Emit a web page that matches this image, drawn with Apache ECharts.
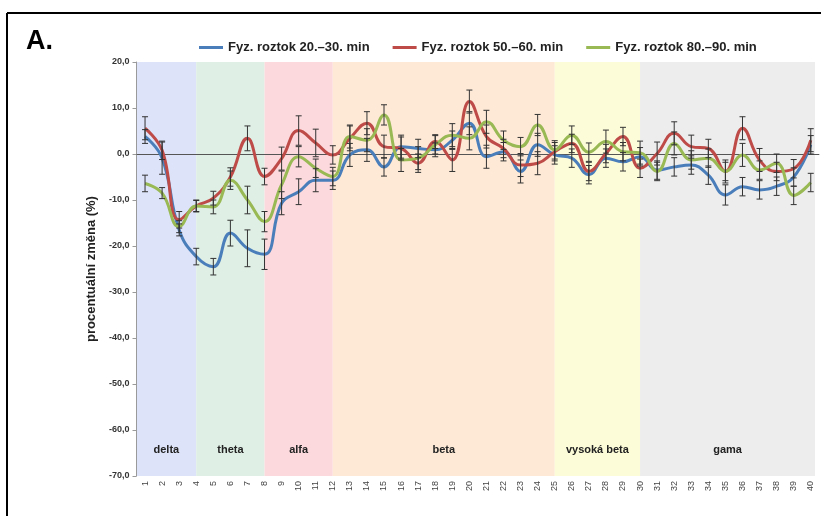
<!DOCTYPE html>
<html>
<head>
<meta charset="utf-8">
<script src="https://cdn.jsdelivr.net/npm/echarts@6/dist/echarts.min.js"></script>
<style>
  html, body { margin: 0; padding: 0; background: #fff; }
  #chart { width: 821px; height: 516px; }
</style>
</head>
<body>
<div id="chart"></div>
<script>
// Frequency bins 1..40
const categories = Array.from({ length: 40 }, (_, i) => String(i + 1));

const seriesNames = [
  'Fyz. roztok 20.–30. min',
  'Fyz. roztok 50.–60. min',
  'Fyz. roztok 80.–90. min'
];

// Mean percentage change per bin
const values20_30 = [3.8, -0.9, -16.5, -22.3, -24.5, -17.2, -20.5, -21.8, -10.7, -8.2,
  -5.7, -5.7, -0.2, 0.9, -2.8, 1.6, 1.2, 0.9, 3.0, 6.7,
  -0.6, 0.5, -3.8, 2.0, -0.2, -0.9, -4.5, -0.9, -1.7, -0.6,
  -3.5, -2.8, -2.4, -4.6, -8.9, -7.1, -7.8, -7.0, -5.0, 2.0];
const values50_60 = [5.6, 0.8, -14.3, -11.3, -9.6, -5.0, 3.4, -4.9, -1.0, 5.1,
  2.4, -0.2, 3.4, 6.7, 1.6, 1.2, -2.0, 2.7, -1.3, 11.4,
  3.8, 1.2, -2.4, -2.0, 0.5, 2.3, -3.8, 0.1, 3.8, -3.1,
  0.1, 4.5, 1.6, 1.2, -3.8, 5.6, -1.3, -3.8, -3.2, 3.0];
const values80_90 = [-6.4, -8.5, -15.8, -11.3, -11.5, -5.7, -10.0, -14.7, -6.7, -0.6,
  -3.1, -4.9, 3.8, 3.0, 8.5, -1.3, -0.9, 2.0, 4.1, 3.4,
  7.0, 3.0, 1.6, 6.3, 0.9, 4.1, 0.4, 2.7, 0.5, 0.3,
  -3.8, 2.3, -1.3, -0.9, -3.8, -0.2, -3.5, -2.0, -9.0, -6.2];

// Standard error half-lengths per bin
const errors20_30 = [1.5, 3.5, 1.3, 1.8, 1.8, 2.8, 4.0, 3.3, 2.5, 2.8,
  2.5, 2.0, 2.5, 2.5, 2.0, 2.5, 2.0, 1.5, 2.0, 2.5,
  2.5, 2.0, 2.5, 2.5, 2.0, 2.0, 2.0, 2.0, 2.0, 2.0,
  2.0, 2.0, 2.0, 2.0, 2.2, 2.0, 2.0, 2.0, 2.0, 2.0];
const errors50_60 = [2.5, 2.0, 1.8, 1.2, 1.5, 2.0, 2.7, 1.8, 2.5, 3.2,
  3.0, 2.0, 2.7, 2.5, 2.5, 2.5, 2.0, 1.5, 2.5, 2.5,
  2.5, 2.0, 2.5, 2.5, 2.0, 2.0, 2.0, 2.0, 2.0, 2.0,
  2.5, 2.5, 2.5, 2.0, 2.5, 2.5, 2.5, 2.0, 2.0, 2.5];
const errors80_90 = [1.8, 1.2, 1.3, 1.3, 1.5, 2.0, 3.0, 2.2, 3.0, 2.2,
  2.0, 2.0, 2.5, 2.5, 2.2, 2.5, 2.5, 2.0, 2.5, 2.5,
  2.5, 2.0, 2.0, 2.3, 2.0, 2.0, 2.0, 2.5, 2.0, 2.5,
  2.0, 2.5, 2.0, 2.0, 2.0, 2.5, 2.0, 2.0, 2.0, 2.0];

// EEG frequency bands (in bin units)
const bandNames = ['delta', 'theta', 'alfa', 'beta', 'vysoká beta', 'gama'];
const bandStart = [0.5, 4, 8, 12, 25, 30];
const bandEnd = [4, 8, 12, 25, 30, 40.25];
const bandColors = ['#dde3f9', '#dfefe5', '#fcd9dc', '#fde9d6', '#fdfcd8', '#ededed'];

// Y axis range
const yMin = -70, yMax = 20, yStep = 10;

const lineColors = ['#4a7ebb', '#be4b48', '#98b954'];
const FONT = '"Liberation Sans", Arial, sans-serif';

const chart = echarts.init(document.getElementById('chart'), null, { renderer: 'canvas' });

function errorData(vals, errs) {
  return vals.map((v, i) => [i, v - errs[i], v + errs[i]]);
}

function errorSeries(vals, errs) {
  return {
    type: 'custom',
    xAxisIndex: 0,
    yAxisIndex: 0,
    z: 5,
    silent: true,
    encode: { x: 0, y: [1, 2] },
    data: errorData(vals, errs),
    renderItem(params, api) {
      const lo = api.coord([api.value(0), api.value(1)]);
      const hi = api.coord([api.value(0), api.value(2)]);
      const cap = 3;
      const st = { stroke: '#333', lineWidth: 1 };
      return {
        type: 'group',
        children: [
          { type: 'line', shape: { x1: lo[0], y1: lo[1], x2: hi[0], y2: hi[1] }, style: st },
          { type: 'line', shape: { x1: lo[0] - cap, y1: lo[1], x2: lo[0] + cap, y2: lo[1] }, style: st },
          { type: 'line', shape: { x1: hi[0] - cap, y1: hi[1], x2: hi[0] + cap, y2: hi[1] }, style: st }
        ]
      };
    }
  };
}

function lineSeries(name, vals, color, extra) {
  return Object.assign({
    name,
    type: 'line',
    xAxisIndex: 0,
    yAxisIndex: 0,
    data: vals,
    smooth: 0.45,
    symbol: 'none',
    z: 3,
    lineStyle: { color, width: 3 },
    itemStyle: { color }
  }, extra || {});
}

const option = {
  animation: false,
  textStyle: { fontFamily: FONT },
  grid: { left: 136.5, right: 1.7, top: 62, bottom: 40, containLabel: false },
  legend: {
    left: 194,
    top: 36,
    icon: 'rect',
    itemWidth: 24,
    itemHeight: 3,
    itemGap: 23,
    data: seriesNames,
    textStyle: { fontSize: 13, fontWeight: 'bold', color: '#222', fontFamily: FONT }
  },
  xAxis: [
    {
      type: 'category',
      data: categories,
      boundaryGap: true,
      axisLine: { show: false },
      axisTick: { show: false },
      axisLabel: {
        interval: 0,
        rotate: 90,
        fontSize: 9,
        color: '#444',
        margin: 5,
        fontFamily: FONT
      },
      splitLine: { show: false }
    },
    {
      type: 'value',
      min: 0.5,
      max: 40.5,
      show: false
    }
  ],
  yAxis: {
    type: 'value',
    min: yMin,
    max: yMax,
    interval: yStep,
    name: 'procentuální změna (%)',
    nameLocation: 'middle',
    nameRotate: 90,
    nameGap: 36,
    nameTextStyle: { fontSize: 13, fontWeight: 'bold', color: '#222', fontFamily: FONT },
    axisLine: { show: true, lineStyle: { color: '#9a9a9a', width: 1 } },
    axisTick: { show: true, length: 4, lineStyle: { color: '#9a9a9a' } },
    axisLabel: {
      fontSize: 9,
      fontWeight: 'bold',
      color: '#333',
      margin: 7,
      fontFamily: FONT,
      formatter: v => v.toFixed(1).replace('.', ',')
    },
    splitLine: { show: false }
  },
  series: [
    {
      type: 'custom',
      xAxisIndex: 1,
      yAxisIndex: 0,
      z: 0,
      silent: true,
      encode: { x: [0, 1] },
      data: bandNames.map((n, i) => [bandStart[i], bandEnd[i], i]),
      renderItem(params, api) {
        const a = api.coord([api.value(0), yMax]);
        const b = api.coord([api.value(1), yMin]);
        const idx = api.value(2);
        return {
          type: 'group',
          children: [
            {
              type: 'rect',
              shape: { x: a[0], y: a[1], width: b[0] - a[0], height: b[1] - a[1] },
              style: { fill: bandColors[idx] }
            },
            {
              type: 'text',
              x: (a[0] + b[0]) / 2,
              y: b[1] - 26,
              style: {
                text: bandNames[idx],
                fill: '#222',
                font: 'bold 11px ' + FONT,
                align: 'center',
                verticalAlign: 'middle'
              }
            }
          ]
        };
      }
    },
    lineSeries(seriesNames[0], values20_30, lineColors[0], {
      markLine: {
        silent: true,
        symbol: 'none',
        label: { show: false },
        lineStyle: { color: '#555', width: 1, type: 'solid' },
        data: [{ yAxis: 0 }],
        z: 2
      }
    }),
    lineSeries(seriesNames[1], values50_60, lineColors[1]),
    lineSeries(seriesNames[2], values80_90, lineColors[2]),
    errorSeries(values20_30, errors20_30),
    errorSeries(values50_60, errors50_60),
    errorSeries(values80_90, errors80_90)
  ],
  graphic: [
    { type: 'line', shape: { x1: 7, y1: 13, x2: 821, y2: 13 }, style: { stroke: '#000', lineWidth: 2 } },
    { type: 'line', shape: { x1: 7, y1: 13, x2: 7, y2: 516 }, style: { stroke: '#000', lineWidth: 2 } },
    {
      type: 'text', left: 26, top: 28,
      style: { text: 'A.', font: 'bold 27px ' + FONT, fill: '#000' }
    },
    {
      type: 'text', left: 219, top: 68,
      style: { text: '**', font: 'bold 13px ' + FONT, fill: '#4a7ebb' }
    }
  ]
};

chart.setOption(option);
</script>
</body>
</html>
